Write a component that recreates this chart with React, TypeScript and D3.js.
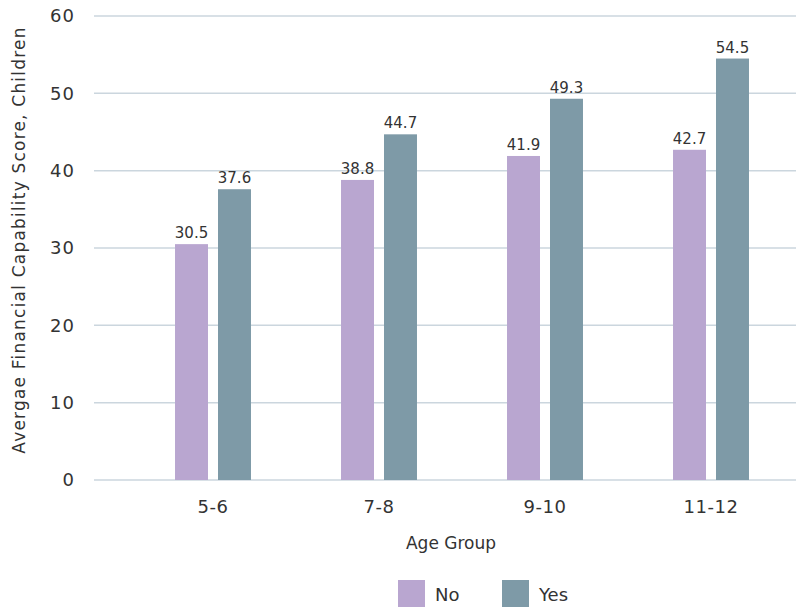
import React, { useEffect, useRef } from 'react';
import * as d3 from 'd3';

const ageGroups = ['5-6', '7-8', '9-10', '11-12'];
const seriesNames = ['No', 'Yes'];
const noValues = [30.5, 38.8, 41.9, 42.7];
const yesValues = [37.6, 44.7, 49.3, 54.5];
const yTicks = [0, 10, 20, 30, 40, 50, 60];
const colors = ['#b9a6d0', '#7e9aa7'];

const FONT = '"DejaVu Sans", sans-serif';

export default function App() {
  const ref = useRef<SVGSVGElement>(null);

  useEffect(() => {
    const svg = d3.select(ref.current);
    svg.selectAll('*').remove();

    const rows = ageGroups.map((g, i) => ({ group: g, values: [noValues[i], yesValues[i]] }));

    const x0 = d3.scaleBand().domain(ageGroups).range([130, 794]).padding(0);
    const x1 = d3.scaleBand().domain(seriesNames).range([0, x0.bandwidth()])
      .paddingInner(0.233).paddingOuter(1.047);
    const y = d3.scaleLinear().domain([0, 60]).range([480, 16]);

    // gridlines
    svg.append('g')
      .selectAll('line')
      .data(yTicks)
      .join('line')
      .attr('x1', 94)
      .attr('x2', 796)
      .attr('y1', d => y(d))
      .attr('y2', d => y(d))
      .attr('stroke', '#cbd6de')
      .attr('stroke-width', 1.5);

    // y tick labels
    svg.append('g')
      .selectAll('text')
      .data(yTicks)
      .join('text')
      .attr('x', 75)
      .attr('y', d => y(d))
      .attr('dy', '0.36em')
      .attr('text-anchor', 'end')
      .attr('font-family', FONT)
      .attr('font-size', 18)
      .attr('letter-spacing', 1)
      .attr('fill', '#333')
      .text(d => d);

    // bars
    const groups = svg.append('g')
      .selectAll('g')
      .data(rows)
      .join('g')
      .attr('transform', d => `translate(${x0(d.group)},0)`);

    groups.selectAll('rect')
      .data(d => d.values.map((v, i) => ({ key: seriesNames[i], value: v, i })))
      .join('rect')
      .attr('x', d => x1(d.key)!)
      .attr('width', x1.bandwidth())
      .attr('y', d => y(d.value))
      .attr('height', d => y(0) - y(d.value))
      .attr('fill', d => colors[d.i]);

    groups.selectAll('text')
      .data(d => d.values.map((v, i) => ({ key: seriesNames[i], value: v })))
      .join('text')
      .attr('x', d => x1(d.key)! + x1.bandwidth() / 2)
      .attr('y', d => y(d.value) - 6)
      .attr('text-anchor', 'middle')
      .attr('font-family', FONT)
      .attr('font-size', 15)
      .attr('fill', '#333')
      .text(d => d.value.toFixed(1));

    // x tick labels
    svg.append('g')
      .selectAll('text')
      .data(ageGroups)
      .join('text')
      .attr('x', d => x0(d)! + x0.bandwidth() / 2)
      .attr('y', 513)
      .attr('text-anchor', 'middle')
      .attr('font-family', FONT)
      .attr('font-size', 18)
      .attr('letter-spacing', 0.5)
      .attr('fill', '#333')
      .text(d => d);

    // axis titles
    svg.append('text')
      .attr('x', 451)
      .attr('y', 549)
      .attr('text-anchor', 'middle')
      .attr('font-family', FONT)
      .attr('font-size', 17)
      .attr('fill', '#333')
      .text('Age Group');

    svg.append('text')
      .attr('transform', 'translate(25,240) rotate(-90)')
      .attr('text-anchor', 'middle')
      .attr('font-family', FONT)
      .attr('font-size', 17)
      .attr('letter-spacing', 1.2)
      .attr('fill', '#333')
      .text('Avergae Financial Capability Score, Children');

    // legend
    const legendX = [398, 502];
    const legend = svg.append('g')
      .selectAll('g')
      .data(seriesNames)
      .join('g')
      .attr('transform', (d, i) => `translate(${legendX[i]},580)`);
    legend.append('rect')
      .attr('width', 27)
      .attr('height', 27)
      .attr('fill', (d, i) => colors[i]);
    legend.append('text')
      .attr('x', 37)
      .attr('y', 21)
      .attr('font-family', FONT)
      .attr('font-size', 18)
      .attr('fill', '#333')
      .text(d => d);
  }, []);

  return (
    <svg ref={ref} width={796} height={608}
      style={{ position: 'absolute', left: 0, top: 0, display: 'block', background: '#fff' }} />
  );
}
